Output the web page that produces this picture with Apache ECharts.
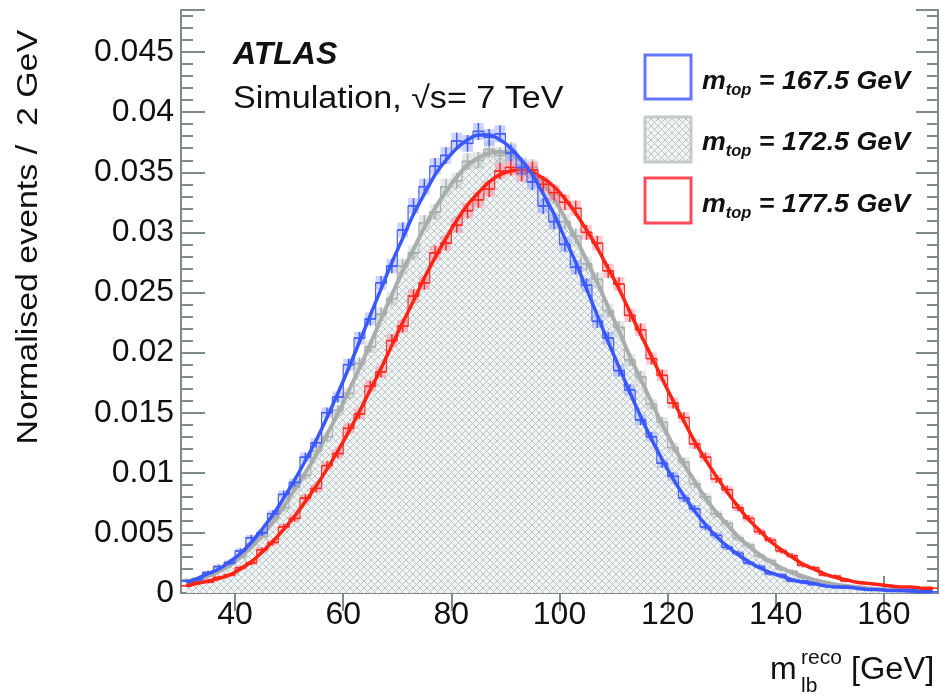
<!DOCTYPE html>
<html>
<head>
<meta charset="utf-8">
<script src="https://cdn.jsdelivr.net/npm/echarts@6/dist/echarts.min.js"></script>
<style>
  html, body { margin: 0; padding: 0; background: #fff; }
  #chart { width: 940px; height: 694px; }
</style>
</head>
<body>
<div id="chart"></div>
<script>
// bin centres, 2 GeV bins from 30 to 170
var binCenters = [31, 33, 35, 37, 39, 41, 43, 45, 47, 49, 51, 53, 55, 57, 59, 61, 63, 65, 67, 69,
  71, 73, 75, 77, 79, 81, 83, 85, 87, 89, 91, 93, 95, 97, 99, 101, 103, 105, 107, 109,
  111, 113, 115, 117, 119, 121, 123, 125, 127, 129, 131, 133, 135, 137, 139, 141, 143, 145, 147, 149,
  151, 153, 155, 157, 159, 161, 163, 165, 167, 169];
var binWidth = 2;
var xTickValues = [40, 60, 80, 100, 120, 140, 160];

// m_top = 167.5 GeV
var blueHist = [.0010, .0011, .0017, .0022, .0025, .0035, .0046, .0050, .0066, .0082, .0092, .0113, .0125, .0150, .0163, .0190, .0212, .0228, .0258, .0272,
  .0302, .0322, .0338, .0355, .0364, .0376, .0374, .0384, .0379, .0382, .0366, .0354, .0342, .0322, .0309, .0290, .0271, .0256, .0226, .0212,
  .0185, .0169, .0144, .0130, .0108, .0097, .0079, .0070, .0055, .0048, .0038, .0033, .0025, .0022, .0016, .0015, .0010, .0010, .0007, .0006,
  .0005, .0004, .0004, .0003, .0003, .0002, .0002, .0001, .0001, .0001];
var blueFit = [.0009, .0012, .0016, .0020, .0026, .0033, .0042, .0053, .0065, .0079, .0094, .0110, .0127, .0146, .0166, .0187, .0209, .0231, .0253, .0275,
  .0295, .0315, .0332, .0348, .0360, .0370, .0377, .0381, .0381, .0377, .0370, .0360, .0348, .0332, .0315, .0295, .0275, .0253, .0231, .0209,
  .0188, .0167, .0147, .0128, .0111, .0095, .0081, .0068, .0057, .0047, .0039, .0032, .0026, .0021, .0017, .0014, .0011, .0009, .0008, .0006,
  .0005, .0005, .0004, .0003, .0003, .0002, .0002, .0002, .0001, .0001];

// m_top = 172.5 GeV
var grayHist = [.0011, .0012, .0017, .0019, .0026, .0030, .0041, .0047, .0061, .0071, .0088, .0098, .0118, .0130, .0152, .0166, .0191, .0205, .0232, .0245,
  .0272, .0283, .0308, .0317, .0338, .0343, .0359, .0360, .0369, .0364, .0368, .0356, .0354, .0338, .0331, .0309, .0297, .0274, .0261, .0235,
  .0221, .0194, .0180, .0157, .0142, .0121, .0109, .0091, .0080, .0066, .0058, .0046, .0040, .0031, .0027, .0020, .0018, .0013, .0011, .0009,
  .0007, .0006, .0005, .0004, .0003, .0003, .0002, .0002, .0001, .0001];
var grayFit = [.0009, .0011, .0014, .0018, .0023, .0030, .0038, .0048, .0059, .0072, .0086, .0100, .0115, .0132, .0149, .0168, .0187, .0207, .0228, .0248,
  .0268, .0286, .0304, .0320, .0334, .0346, .0356, .0362, .0366, .0367, .0365, .0359, .0351, .0341, .0328, .0312, .0295, .0277, .0258, .0238,
  .0218, .0197, .0178, .0159, .0140, .0123, .0107, .0093, .0079, .0067, .0057, .0047, .0039, .0032, .0026, .0021, .0017, .0014, .0011, .0009,
  .0007, .0006, .0005, .0004, .0003, .0003, .0002, .0002, .0002, .0001];

// m_top = 177.5 GeV
var redHist = [.0006, .0009, .0009, .0013, .0015, .0021, .0025, .0036, .0042, .0055, .0062, .0079, .0087, .0106, .0116, .0137, .0149, .0172, .0184, .0210,
  .0222, .0247, .0258, .0283, .0291, .0306, .0318, .0327, .0336, .0351, .0354, .0349, .0352, .0340, .0333, .0325, .0320, .0300, .0291, .0268,
  .0257, .0231, .0219, .0195, .0181, .0158, .0146, .0124, .0113, .0095, .0086, .0071, .0062, .0051, .0044, .0035, .0031, .0023, .0021, .0015,
  .0014, .0010, .0009, .0008, .0007, .0006, .0005, .0005, .0004, .0004];
var redFit = [.0006, .0008, .0010, .0012, .0015, .0020, .0026, .0034, .0043, .0053, .0064, .0076, .0089, .0103, .0118, .0134, .0151, .0169, .0187, .0206,
  .0225, .0243, .0262, .0279, .0295, .0310, .0323, .0333, .0342, .0348, .0351, .0352, .0350, .0345, .0338, .0328, .0316, .0302, .0287, .0270,
  .0253, .0234, .0215, .0197, .0178, .0160, .0143, .0126, .0111, .0097, .0084, .0072, .0061, .0052, .0043, .0036, .0030, .0024, .0020, .0016,
  .0013, .0011, .0009, .0008, .0007, .0006, .0005, .0005, .0004, .0004];

var errScale = 0.0036; // statistical error ~ sqrt(content)
var font = "'Liberation Sans', Arial, Helvetica, sans-serif";
var axisGray = "#7f8a8a";

function pairs(vals) {
  return binCenters.map(function(x, i) { return [x, vals[i]]; });
}

// cross-hatch pattern for the 172.5 GeV template
var hatch = document.createElement("canvas");
hatch.width = hatch.height = 7;
(function() {
  var g = hatch.getContext("2d");
  g.fillStyle = "#f1f4f4";
  g.fillRect(0, 0, 7, 7);
  g.strokeStyle = "#bac6c6";
  g.lineWidth = 1;
  g.beginPath();
  g.moveTo(0, 0); g.lineTo(7, 7);
  g.moveTo(7, 0); g.lineTo(0, 7);
  g.stroke();
})();
var hatchFill = { image: hatch, repeat: "repeat" };

function crosses(dark, light) {
  return function(params, api) {
    var x = api.value(0), y = api.value(1);
    var e = errScale * Math.sqrt(y);
    var lt = api.coord([x - binWidth / 2, y + e]);
    var rb = api.coord([x + binWidth / 2, y - e]);
    var l = api.coord([x - binWidth / 2, y]), r = api.coord([x + binWidth / 2, y]);
    var t = api.coord([x, y + e]), b = api.coord([x, y - e]);
    return {
      type: "group",
      children: [
        { type: "rect", shape: { x: lt[0], y: lt[1], width: rb[0] - lt[0], height: rb[1] - lt[1] }, style: { fill: light } },
        { type: "line", shape: { x1: l[0], y1: l[1], x2: r[0], y2: r[1] }, style: { stroke: dark, lineWidth: 1.5 } },
        { type: "line", shape: { x1: t[0], y1: t[1], x2: b[0], y2: b[1] }, style: { stroke: dark, lineWidth: 1.5 } }
      ]
    };
  };
}

function histLine(name, vals, color, z, area) {
  var s = {
    name: name, type: "line", step: "middle", data: pairs(vals), symbol: "none",
    lineStyle: { color: color, width: 1.2 }, z: z, silent: true
  };
  if (area) s.areaStyle = { color: area, opacity: 1 };
  return s;
}
function errSeries(vals, dark, light, z) {
  return { type: "custom", data: pairs(vals), renderItem: crosses(dark, light), z: z, clip: true, silent: true };
}
function fitLine(vals, color, width, z) {
  return {
    type: "line", data: pairs(vals), smooth: 0.35, symbol: "none",
    lineStyle: { color: color, width: width }, z: z, silent: true
  };
}

var chart = echarts.init(document.getElementById("chart"), null, { renderer: "canvas" });

var tickStyle = { color: axisGray, width: 2 };
var option = {
  animation: false,
  backgroundColor: "#fff",
  grid: { left: 181, right: 2, top: 10, bottom: 101 },
  xAxis: [{
    type: "value", min: 30, max: 170, position: "bottom",
    axisLine: { lineStyle: tickStyle },
    axisTick: { inside: true, length: 17, customValues: xTickValues, lineStyle: tickStyle },
    axisLabel: { customValues: xTickValues, fontSize: 32, color: "#111", margin: 6, fontFamily: font },
    splitLine: { show: false }
  }, {
    type: "value", min: 30, max: 170, position: "top",
    axisLine: { lineStyle: tickStyle },
    axisTick: { inside: true, length: 18, customValues: xTickValues, lineStyle: tickStyle },
    axisLabel: { show: false },
    splitLine: { show: false }
  }],
  yAxis: [{
    type: "value", min: 0, max: 0.0485, interval: 0.005, position: "left",
    axisLine: { show: true, lineStyle: tickStyle },
    axisTick: { inside: true, length: 24, lineStyle: tickStyle },
    minorTick: { show: true, splitNumber: 5, length: 12, lineStyle: tickStyle },
    axisLabel: {
      fontSize: 32, color: "#111", margin: 7, fontFamily: font, showMaxLabel: false,
      formatter: function(v) { return v === 0 ? "0" : String(+v.toFixed(3)); }
    },
    splitLine: { show: false }
  }, {
    type: "value", min: 0, max: 0.0485, interval: 0.005, position: "right",
    axisLine: { show: true, lineStyle: tickStyle },
    axisTick: { inside: true, length: 22, lineStyle: tickStyle },
    minorTick: { show: true, splitNumber: 5, length: 11, lineStyle: tickStyle },
    axisLabel: { show: false },
    splitLine: { show: false }
  }],
  series: [
    histLine("172.5", grayHist, "#a9aeae", 1, hatchFill),
    errSeries(grayHist, "#a9aeae", "rgba(170,178,178,0.3)", 2),
    fitLine(grayFit, "#a9adac", 4, 3),
    histLine("177.5", redHist, "#ff2a20", 4),
    errSeries(redHist, "#ff2a20", "rgba(255,110,140,0.38)", 5),
    fitLine(redFit, "#ff2414", 3.5, 6),
    histLine("167.5", blueHist, "#3f5cff", 7),
    errSeries(blueHist, "#3f5cff", "rgba(120,140,255,0.38)", 8),
    fitLine(blueFit, "#3a58ff", 3.5, 9)
  ],
  graphic: [
    { type: "text", x: 233, y: 55, style: { text: "ATLAS", font: "italic bold 32px " + font, fill: "#111", verticalAlign: "middle" } },
    { type: "text", x: 233, y: 99, scaleX: 1.1, style: { text: "Simulation, \u221As= 7 TeV", font: "31px " + font, fill: "#111", verticalAlign: "middle" } },
    // y axis title
    { type: "text", x: 29, y: 30, rotation: Math.PI / 2, scaleX: 1.13,
      style: { text: "Normalised events /  2 GeV", font: "30px " + font, fill: "#111", align: "right", verticalAlign: "middle" } },
    // x axis title
    { type: "text", x: 770, y: 670, style: { text: "m", font: "32px " + font, fill: "#111", verticalAlign: "middle" } },
    { type: "text", x: 801, y: 658, style: { text: "reco", font: "21px " + font, fill: "#111", verticalAlign: "middle" } },
    { type: "text", x: 801, y: 686, style: { text: "lb", font: "21px " + font, fill: "#111", verticalAlign: "middle" } },
    { type: "text", x: 851, y: 670, scaleX: 1.05, style: { text: "[GeV]", font: "31px " + font, fill: "#111", verticalAlign: "middle" } },
    // legend
    { type: "rect", shape: { x: 645, y: 55, width: 46, height: 44 }, style: { fill: "#fff", stroke: "#6677ff", lineWidth: 3 }, z: 20 },
    { type: "rect", shape: { x: 645, y: 117, width: 46, height: 45 }, style: { fill: hatchFill, stroke: "#c4caca", lineWidth: 3 }, z: 20 },
    { type: "rect", shape: { x: 645, y: 178, width: 46, height: 45 }, style: { fill: "#fff", stroke: "#ff4a5a", lineWidth: 3 }, z: 20 }
  ]
};

var legendRows = [["167.5", 82], ["172.5", 143], ["177.5", 205]];
legendRows.forEach(function(row) {
  option.graphic.push({
    type: "text", x: 702, y: row[1], z: 20, scaleX: 1.03,
    style: {
      text: "{m|m}{s|top}{t| = " + row[0] + " GeV}",
      verticalAlign: "middle", fill: "#111",
      rich: {
        m: { font: "italic bold 26px " + font, fill: "#111", lineHeight: 34, verticalAlign: "middle" },
        s: { font: "italic bold 16px " + font, fill: "#111", lineHeight: 34, verticalAlign: "bottom" },
        t: { font: "italic bold 26px " + font, fill: "#111", lineHeight: 34, verticalAlign: "middle" }
      }
    }
  });
});

chart.setOption(option);
</script>
</body>
</html>
